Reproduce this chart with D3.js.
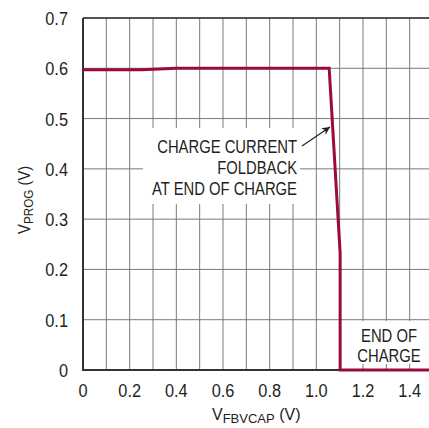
<!DOCTYPE html>
<html>
<head>
<meta charset="utf-8">
<script src="https://cdn.jsdelivr.net/npm/d3@7"></script>
<style>
  body { margin: 0; background: #fff; }
  text { font-family: "Liberation Sans Narrow", "Arial Narrow", "Liberation Sans", Arial, sans-serif; fill: #231f20; }
</style>
</head>
<body>
<svg id="chart" width="429" height="428"></svg>
<script>
var width = 429,
  height = 428;

// curve
var vFb   = [ 0, 0.25, 0.4, 1.055, 1.102, 1.102, 1.5 ];
var vProg = [ 0.597, 0.597, 0.6, 0.6, 0.233, 0, 0 ];

var xTicks = [ 0, 0.2, 0.4, 0.6, 0.8, 1.0, 1.2, 1.4 ];
var yTicks = [ 0, 0.1, 0.2, 0.3, 0.4, 0.5, 0.6, 0.7 ];
var xGrid = d3.range( 0, 16 ).map( i => i / 10 );

var note1 = [ "CHARGE CURRENT", "FOLDBACK", "AT END OF CHARGE" ];
var note2 = [ "END OF", "CHARGE" ];

var svg = d3.select( "#chart" );

var x = d3.scaleLinear().domain( [ 0, 1.5 ] ).range( [ 83, 433 ] );
var y = d3.scaleLinear().domain( [ 0, 0.7 ] ).range( [ 370, 18 ] );

// narrow-looking text: squeeze horizontally
function place( px, py, sx ) {
  return "translate(" + px + "," + py + ") scale(" + sx + ",1)";
}

// grid
svg.append( "g" ).selectAll( "line" )
  .data( xGrid )
  .enter().append( "line" )
    .attr( "x1", d => x( d ) ).attr( "x2", d => x( d ) )
    .attr( "y1", y( 0 ) ).attr( "y2", y( 0.7 ) )
    .attr( "stroke", "#7a7a7a" ).attr( "stroke-width", 1 );

svg.append( "g" ).selectAll( "line" )
  .data( yTicks )
  .enter().append( "line" )
    .attr( "x1", x( 0 ) ).attr( "x2", x( 1.5 ) )
    .attr( "y1", d => y( d ) ).attr( "y2", d => y( d ) )
    .attr( "stroke", "#7a7a7a" ).attr( "stroke-width", 1 );

// frame
svg.append( "line" )
  .attr( "x1", x( 0 ) ).attr( "x2", x( 1.5 ) )
  .attr( "y1", y( 0.7 ) ).attr( "y2", y( 0.7 ) )
  .attr( "stroke", "#333" ).attr( "stroke-width", 1.5 );
svg.append( "line" )
  .attr( "x1", x( 0 ) ).attr( "x2", x( 0 ) )
  .attr( "y1", y( 0 ) ).attr( "y2", y( 0.7 ) )
  .attr( "stroke", "#333" ).attr( "stroke-width", 2 );
svg.append( "line" )
  .attr( "x1", x( 0 ) - 1 ).attr( "x2", x( 1.5 ) )
  .attr( "y1", y( 0 ) ).attr( "y2", y( 0 ) )
  .attr( "stroke", "#333" ).attr( "stroke-width", 2 );

// annotation backgrounds
svg.append( "rect" )
  .attr( "x", 143 ).attr( "y", 128 ).attr( "width", 157 ).attr( "height", 76 )
  .attr( "fill", "#fff" );
svg.append( "rect" )
  .attr( "x", 344 ).attr( "y", 321 ).attr( "width", 85 ).attr( "height", 43 )
  .attr( "fill", "#fff" );

// curve
var line = d3.line()
  .x( ( d, i ) => x( vFb[ i ] ) )
  .y( d => y( d ) );

svg.append( "path" )
  .datum( vProg )
  .attr( "d", line )
  .attr( "fill", "none" )
  .attr( "stroke", "#9b0a3c" )
  .attr( "stroke-width", 3 )
  .attr( "stroke-linejoin", "miter" );

// tick labels
svg.append( "g" ).selectAll( "text" )
  .data( yTicks )
  .enter().append( "text" )
    .attr( "transform", d => place( 68, y( d ) + 7, 0.86 ) )
    .attr( "text-anchor", "end" )
    .style( "font-size", "19px" )
    .text( d => d === 0 ? "0" : d.toFixed( 1 ) );

svg.append( "g" ).selectAll( "text" )
  .data( xTicks )
  .enter().append( "text" )
    .attr( "transform", d => place( x( d ), 397, 0.86 ) )
    .attr( "text-anchor", "middle" )
    .style( "font-size", "19px" )
    .text( d => d === 0 ? "0" : d.toFixed( 1 ) );

// axis titles
var yt = svg.append( "text" )
  .attr( "transform", "translate(30,234) rotate(-90) scale(0.9,1)" )
  .attr( "text-anchor", "start" )
  .style( "font-size", "16.5px" );
yt.append( "tspan" ).text( "V" );
yt.append( "tspan" ).attr( "dy", 3 ).style( "font-size", "13px" ).text( "PROG" );
yt.append( "tspan" ).attr( "dy", -3 ).text( " (V)" );

var xt = svg.append( "text" )
  .attr( "x", 212 ).attr( "y", 420 )
  .attr( "text-anchor", "start" )
  .style( "font-size", "16px" );
xt.append( "tspan" ).text( "V" );
xt.append( "tspan" ).attr( "dy", 2.5 ).style( "font-size", "13px" ).text( "FBVCAP" );
xt.append( "tspan" ).attr( "dy", -2.5 ).text( " (V)" );

// annotations
svg.append( "g" ).selectAll( "text" )
  .data( note1 )
  .enter().append( "text" )
    .attr( "transform", ( d, i ) => place( 297, 153 + i * 21, 0.78 ) )
    .attr( "text-anchor", "end" )
    .style( "font-size", "19px" )
    .text( d => d );

svg.append( "g" ).selectAll( "text" )
  .data( note2 )
  .enter().append( "text" )
    .attr( "transform", ( d, i ) => place( 389, 342 + i * 20, 0.78 ) )
    .attr( "text-anchor", "middle" )
    .style( "font-size", "19px" )
    .text( d => d );

// arrow
svg.append( "defs" ).append( "marker" )
  .attr( "id", "ah" )
  .attr( "viewBox", "0 0 10 10" )
  .attr( "refX", 10 ).attr( "refY", 5 )
  .attr( "markerWidth", 11 ).attr( "markerHeight", 8 )
  .attr( "markerUnits", "userSpaceOnUse" )
  .attr( "orient", "auto" )
  .append( "path" )
    .attr( "d", "M0,0 L10,5 L0,10 L3,5 Z" )
    .attr( "fill", "#231f20" );

svg.append( "line" )
  .attr( "x1", 302 ).attr( "y1", 146 )
  .attr( "x2", 330 ).attr( "y2", 127 )
  .attr( "stroke", "#231f20" ).attr( "stroke-width", 1.2 )
  .attr( "marker-end", "url(#ah)" );
</script>
</body>
</html>
